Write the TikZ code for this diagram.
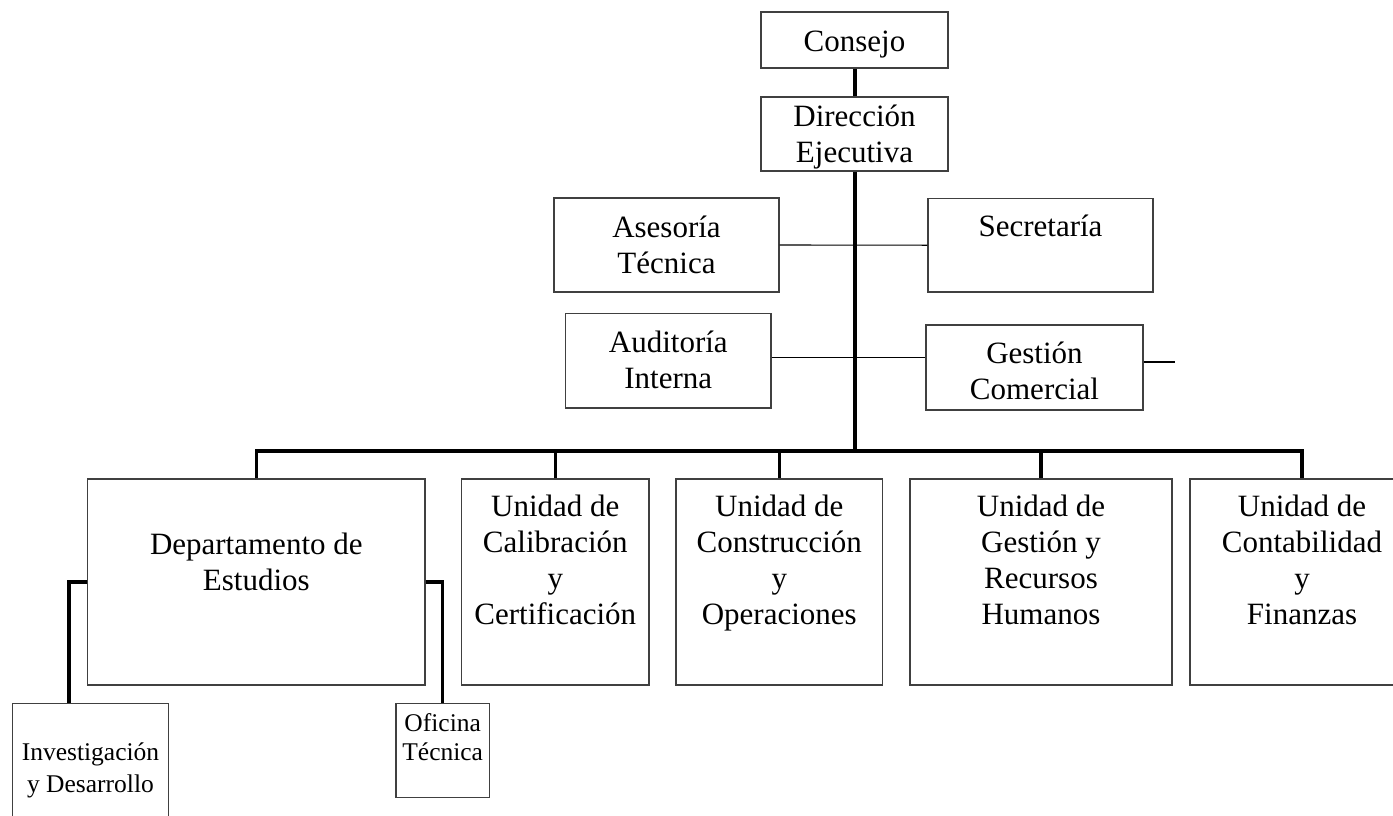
\documentclass[tikz,border=0pt]{standalone}
\usepackage{fontspec}
\setmainfont{Liberation Serif}
\begin{document}
\begin{tikzpicture}[x=1pt,y=-1pt,
  box/.style n args={2}{draw=black!75, line width=1.3pt, inner sep=0pt, minimum width=#1pt, minimum height=#2pt},
  txt/.style={anchor=base, align=center, inner sep=0pt, font=\fontsize{31}{36}\selectfont},
  stxt/.style={anchor=base, align=center, inner sep=0pt, font=\fontsize{25.5}{32}\selectfont},
  mainline/.style={line width=4pt},
  conn/.style={line width=3.2pt},
  midline/.style={line width=2.4pt},
  thinline/.style={line width=1.1pt}]
\useasboundingbox (0,0) rectangle (1393,815);
% boxes
\node[box={187}{56}] (cons) at (854.5,40) {};
\node[box={187}{74}] (dir) at (854.5,134) {};
\node[box={225}{94}] (ase) at (666.5,245) {};
\node[box={225}{93.5}] (sec) at (1040.5,245.2) {};
\node[box={205.3}{94.7}] (aud) at (668.3,360.7) {};
\node[box={217}{85}] (gc) at (1034.5,367.5) {};
\node[box={337.3}{206}] (dept) at (256.3,582) {};
\node[box={187.3}{206}] (cal) at (555.3,582) {};
\node[box={206.5}{206}] (con) at (779.3,582) {};
\node[box={262}{206}] (grh) at (1041,582) {};
\node[box={224}{206}] (cont) at (1302,582) {};
\node[box={155.6}{130}] (inv) at (90.5,768.3) {};
\node[box={93.3}{94}] (ofi) at (442.7,750.3) {};
% texts (anchor = baseline of the last line)
\node[txt] (consT) at (854.5,51.7) {Consejo};
\node[txt] (dirT) at (854.5,162) {Dirección\\Ejecutiva};
\node[txt] (aseT) at (666.5,273) {Asesoría\\Técnica};
\node[txt] (secT) at (1040.5,236.7) {Secretaría};
\node[txt] (audT) at (668.3,388) {Auditoría\\Interna};
\node[txt] (gcT) at (1034.5,399) {Gestión\\Comercial};
\node[txt] (deptT) at (256.3,590) {Departamento de\\Estudios};
\node[txt] (calT) at (555.3,624) {Unidad de\\Calibración\\y\\Certificación};
\node[txt] (conT) at (779.3,624) {Unidad de\\Construcción\\y\\Operaciones};
\node[txt] (grhT) at (1041,624) {Unidad de\\Gestión y\\Recursos\\Humanos};
\node[txt] (contT) at (1302,624) {Unidad de\\Contabilidad\\y\\Finanzas};
\node[stxt] (invT) at (90.5,792) {Investigación\\y Desarrollo};
\node[stxt, font=\fontsize{25.5}{28.5}\selectfont] (ofiT) at (442.7,760) {Oficina\\Técnica};
% connectors
\coordinate (bus) at (854.5,451);
\coordinate (gcend) at (1175,361.7);
\draw[mainline] (cons.south) -- (dir.north);
\draw[mainline] (dir.south) -- (bus);
\draw[conn] (dept.north) |- (bus) -| (cont.north);
\draw[conn] (cal.north) -- (cal.north |- bus);
\draw[conn] (con.north) -- (con.north |- bus);
\draw[conn] (grh.north) -- (grh.north |- bus);
\draw[thinline] (ase.east) -- (sec.west);
\draw[thinline] ([yshift=2.8pt]aud.east) -- ([yshift=2.8pt]aud.east -| gc.west);
\draw[midline] (gc.east |- gcend) -- (gcend);
\draw[conn] (dept.west) -| ([xshift=-21.5pt]inv.north);
\draw[conn] (dept.east) -| (ofi.north);
\end{tikzpicture}
\end{document}
